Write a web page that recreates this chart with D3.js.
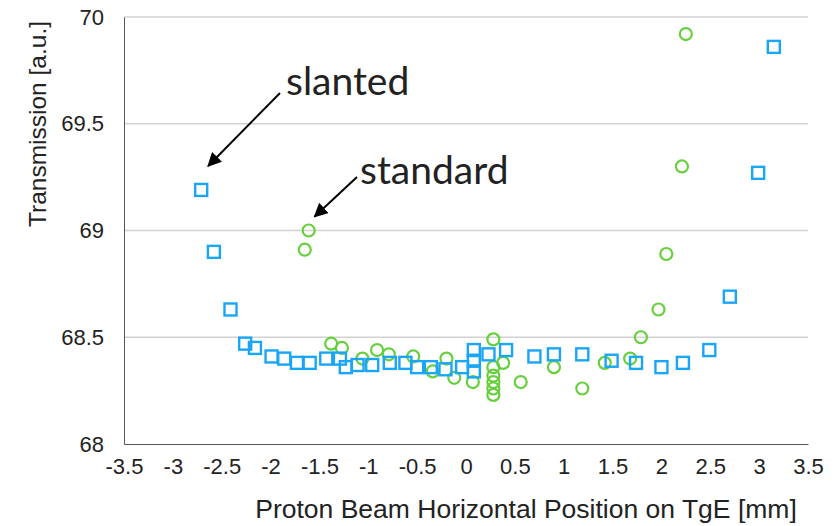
<!DOCTYPE html>
<html>
<head>
<meta charset="utf-8">
<script src="https://cdn.jsdelivr.net/npm/d3@7"></script>
<style>
  body { margin: 0; background: #fff; }
  text { font-family: "Liberation Sans", Arial, sans-serif; fill: #222; }
</style>
</head>
<body>
<div id="graph"></div>
<script>
// Slanted (blue squares)
const slantedX = [-2.71, -2.58, -2.41, -2.26, -2.16, -1.99, -1.86, -1.73, -1.60, -1.43, -1.29, -1.23, -1.11, -0.96, -0.78, -0.62, -0.50, -0.36, -0.21, -0.04, 0.08, 0.08, 0.08, 0.23, 0.41, 0.70, 0.90, 1.19, 1.49, 1.74, 2.00, 2.22, 2.49, 2.70, 2.99, 3.15];
const slantedY = [69.19, 68.90, 68.63, 68.47, 68.45, 68.41, 68.40, 68.38, 68.38, 68.40, 68.40, 68.36, 68.37, 68.37, 68.38, 68.38, 68.36, 68.36, 68.35, 68.36, 68.44, 68.39, 68.34, 68.42, 68.44, 68.41, 68.42, 68.42, 68.39, 68.38, 68.36, 68.38, 68.44, 68.69, 69.27, 69.86];

// Standard (green circles)
const standardX = [-1.65, -1.61, -1.38, -1.27, -1.06, -0.91, -0.79, -0.54, -0.34, -0.20, -0.12, 0.07, 0.28, 0.28, 0.28, 0.28, 0.28, 0.28, 0.38, 0.56, 0.90, 1.19, 1.42, 1.68, 1.79, 1.97, 2.05, 2.21, 2.25];
const standardY = [68.91, 69.00, 68.47, 68.45, 68.40, 68.44, 68.42, 68.41, 68.34, 68.40, 68.31, 68.29, 68.49, 68.36, 68.32, 68.29, 68.26, 68.23, 68.38, 68.29, 68.36, 68.26, 68.38, 68.40, 68.50, 68.63, 68.89, 69.30, 69.92];

const xTicks = [-3.5, -3, -2.5, -2, -1.5, -1, -0.5, 0, 0.5, 1, 1.5, 2, 2.5, 3, 3.5];
const yTicks = [68, 68.5, 69, 69.5, 70];

const blue = '#1aa6f7', green = '#66d03c';

const margin = { top: 17, right: 27, bottom: 82, left: 124 },
	width = 835 - margin.left - margin.right,
	height = 526 - margin.top - margin.bottom;

const root = d3.select('#graph').append('svg').attr('width', 835).attr('height', 526);
const svg = root.append('g').attr('transform', `translate(${margin.left}, ${margin.top})`);

const x = d3.scaleLinear().domain([-3.5, 3.5]).range([0, width]);
const y = d3.scaleLinear().domain([68, 70]).range([height, 0]);

// Grid lines
svg.append('g')
	.selectAll('line')
	.data(yTicks.slice(1))
	.join('line')
	.attr('x1', 0).attr('x2', width)
	.attr('y1', d => y(d)).attr('y2', d => y(d))
	.attr('stroke', '#d2d2d2').attr('stroke-width', 1.5);

// Y axis
const yAxis = svg.append('g')
	.call(d3.axisLeft(y).tickValues(yTicks).tickSize(0).tickPadding(20).tickFormat(d => String(d)));
yAxis.select('.domain').attr('stroke', '#555');
yAxis.selectAll('.tick text').style('font-size', '22px').attr('fill', '#222');

// X axis (plain hyphen for negatives)
const xAxis = svg.append('g')
	.attr('transform', `translate(0, ${height})`)
	.call(d3.axisBottom(x).tickValues(xTicks).tickSize(0).tickPadding(14).tickFormat(d => String(d)));
xAxis.select('.domain').attr('stroke', '#555');
xAxis.selectAll('.tick text').style('font-size', '22px').attr('fill', '#222');

// Axis titles
root.append('text')
	.attr('transform', `translate(46, ${margin.top + 107}) rotate(-90)`)
	.attr('text-anchor', 'middle')
	.style('font-size', '24.5px')
	.text('Transmission [a.u.]');

root.append('text')
	.attr('x', 526).attr('y', 518)
	.attr('text-anchor', 'middle')
	.style('font-size', '26.5px')
	.text('Proton Beam Horizontal Position on TgE [mm]');

// Standard points (circles)
svg.append('g')
	.selectAll('circle')
	.data(standardX.map((d, i) => [d, standardY[i]]))
	.join('circle')
	.attr('cx', d => x(d[0])).attr('cy', d => y(d[1]))
	.attr('r', 6)
	.attr('fill', 'none').attr('stroke', green).attr('stroke-width', 2.2);

// Slanted points (squares)
svg.append('g')
	.selectAll('rect')
	.data(slantedX.map((d, i) => [d, slantedY[i]]))
	.join('rect')
	.attr('x', d => x(d[0]) - 6).attr('y', d => y(d[1]) - 6)
	.attr('width', 12).attr('height', 12)
	.attr('fill', 'none').attr('stroke', blue).attr('stroke-width', 2.4);

// Annotations
root.append('defs').append('marker')
	.attr('id', 'arrow')
	.attr('viewBox', '0 0 10 10')
	.attr('refX', 9).attr('refY', 5)
	.attr('markerWidth', 7).attr('markerHeight', 7)
	.attr('markerUnits', 'strokeWidth')
	.attr('orient', 'auto')
	.append('path')
	.attr('d', 'M0,0 L10,5 L0,10 z')
	.attr('fill', '#000');

const notes = [
	{ label: 'slanted', px: slantedX[0], py: slantedY[0], dx: 7, dy: -24, tx: 286, ty: 95, sx: 280, sy: 93 },
	{ label: 'standard', px: standardX[1], py: standardY[1], dx: 6, dy: -14, tx: 360, ty: 184, sx: 357, sy: 177 }
];

notes.forEach(n => {
	root.append('line')
		.attr('x1', n.sx).attr('y1', n.sy)
		.attr('x2', margin.left + x(n.px) + n.dx).attr('y2', margin.top + y(n.py) + n.dy)
		.attr('stroke', '#000').attr('stroke-width', 2)
		.attr('marker-end', 'url(#arrow)');
	root.append('text')
		.attr('x', n.tx).attr('y', n.ty)
		.style('font-family', 'Lato, "Open Sans", sans-serif')
		.style('font-size', '39px')
		.attr('fill', '#000')
		.text(n.label);
});
</script>
</body>
</html>
